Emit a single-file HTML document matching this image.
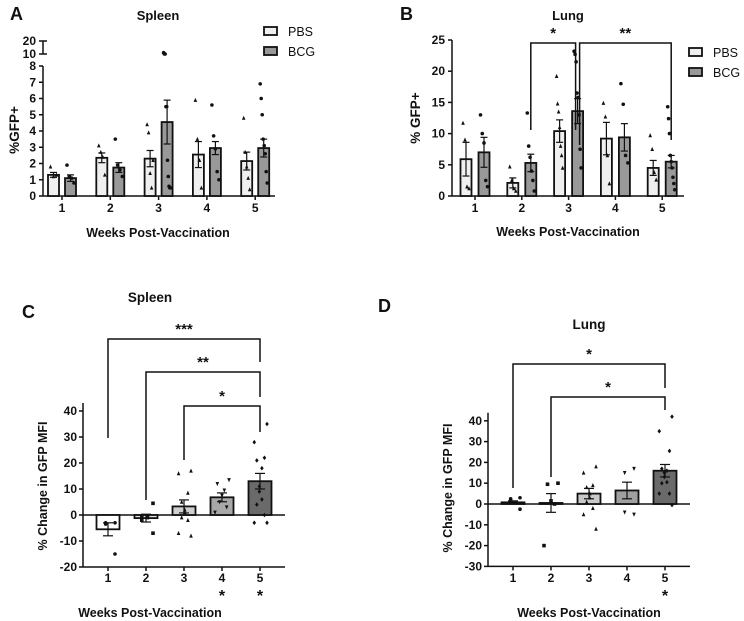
<!DOCTYPE html>
<html><head><meta charset="utf-8"><style>
html,body{margin:0;padding:0;background:#fff}
svg{display:block;font-family:"Liberation Sans",Arial,sans-serif;font-weight:bold}
</style></head><body>
<svg id="fig" width="744" height="621" viewBox="0 0 744 621" xmlns="http://www.w3.org/2000/svg"></svg>
<script>
// ---------- Panel A data (Spleen %GFP+) ----------
const aWeeks = ["1","2","3","4","5"];
const aPbsMean = [1.3, 2.35, 2.3, 2.55, 2.15];
const aPbsSem = [0.15, 0.3, 0.5, 0.8, 0.55];
const aBcgMean = [1.1, 1.75, 4.55, 2.95, 2.95];
const aBcgSem = [0.2, 0.3, 1.35, 0.4, 0.55];
const aPbsPts = [[1.8,1.2,1.3],[3.1,2.7,2.4,1.3],[4.4,3.9,1.4,0.5,2.2],[5.9,3.5,2.2,0.5],[4.8,2.7,1.8,1.1,0.4]];
const aBcgPts = [[1.9,1.2,1.1,0.8],[3.5,1.9,1.6,1.2],[11,10,10,5.5,5.5,2.2,1.2,0.6,0.5,0.5],[5.6,3.7,2.9,1.5,1.0],[6.9,6.0,5.0,3.5,3.1,2.6,1.5,0.8]];
const aTicksLow = [0,1,2,3,4,5,6,7,8];
const aTicksHigh = [10,20];
// ---------- Panel B data (Lung %GFP+) ----------
const bWeeks = ["1","2","3","4","5"];
const bPbsMean = [5.9, 2.1, 10.4, 9.2, 4.5];
const bPbsSem = [2.7, 0.8, 1.8, 2.6, 1.2];
const bBcgMean = [7.0, 5.3, 13.6, 9.4, 5.5];
const bBcgSem = [2.4, 1.4, 2.0, 2.2, 1.0];
const bPbsPts = [[11.7,9,1.5,1.2],[4.7,2.5,1.2,0.8],[19.2,14.8,13.5,11,8,6.5,4.5],[14.9,12.7,6.5,2],[9.7,7.5,3.8,2.6]];
const bBcgPts = [[13,10,8.5,2.5,1.5],[13.3,8,6.2,4,2.5,0.8],[23.2,22.7,21.5,16.5,15.8,13,7.5,4.5],[18,14.7,6.5,5.3],[14.3,12.4,10,6.5,5.5,4.5,3,2,1]];
const bTicks = [0,5,10,15,20,25];
// ---------- Panel C data (Spleen % change MFI) ----------
const cWeeks = ["1","2","3","4","5"];
const cMean = [-5.5, -1.2, 3.3, 6.8, 13];
const cSem = [2.5, 1.5, 2.5, 1.7, 3];
const cPts = [[-3,-3,-3.5,-15],[4.5,-0.5,-0.5,-1,-2,-7],[17,16,8.5,5,2,1,-1,-2,-7,-8],[13.5,12,9.5,7.5,5,3,1],[35,28,22,21,18,11,9,6,4,0,-3,-3]];
const cTicks = [-20,-10,0,10,20,30,40];
// ---------- Panel D data (Lung % change MFI) ----------
const dWeeks = ["1","2","3","4","5"];
const dMean = [0.8, 0.5, 5, 6.5, 16];
const dSem = [0.7, 4.5, 2.5, 4, 3];
const dPts = [[3,2.5,2,-2.5],[10,9.5,1.5,0,-20],[18,15,9,8,5,3,1,-2,-5,-12],[17,15,-4,-5],[42,35,25.5,17,16,15,13,10.5,10,5,5,-0.5]];
const dTicks = [-30,-20,-10,0,10,20,30,40];

const NS = "http://www.w3.org/2000/svg";
const svg = document.getElementById('fig');
function mk(tag, attrs, parent){
  const e = document.createElementNS(NS, tag);
  for (const k in attrs) e.setAttribute(k, attrs[k]);
  (parent||svg).appendChild(e);
  return e;
}
function txt(x,y,s,size,anchor,parent,rot){
  const t = mk('text',{x:x,y:y,'font-size':size,'text-anchor':anchor||'middle',fill:'#111'},parent);
  if(rot) t.setAttribute('transform','rotate(-90 '+x+' '+y+')');
  t.textContent = s;
  return t;
}
function line(x1,y1,x2,y2,w,parent){ return mk('line',{x1:x1,y1:y1,x2:x2,y2:y2,stroke:'#111','stroke-width':w||1.5},parent); }
function marker(shape,x,y,parent){
  let m;
  const s=1.8;
  if(shape==='circle') m=mk('circle',{cx:x,cy:y,r:s,fill:'#111'},parent);
  else if(shape==='square') m=mk('rect',{x:x-s,y:y-s,width:2*s,height:2*s,fill:'#111'},parent);
  else if(shape==='tri') m=mk('polygon',{points:`${x},${y-s-0.5} ${x-s},${y+s} ${x+s},${y+s}`,fill:'#111'},parent);
  else if(shape==='dtri') m=mk('polygon',{points:`${x},${y+s+0.5} ${x-s},${y-s} ${x+s},${y-s}`,fill:'#111'},parent);
  else m=mk('polygon',{points:`${x},${y-s-0.5} ${x+s},${y} ${x},${y+s+0.5} ${x-s},${y}`,fill:'#111'},parent);
  
  
}
function bar(g,x,w,yv,y0,fill,name){
  const r = mk('rect',{x:x-w/2,y:Math.min(yv,y0),width:w,height:Math.abs(y0-yv),fill:fill,stroke:'#111','stroke-width':1.8},g);
  
  
}
function errbar(g,x,yTop,yBot,cap){
  line(x,yTop,x,yBot,1.2,g);
  line(x-cap,yTop,x+cap,yTop,1.2,g);
  line(x-cap,yBot,x+cap,yBot,1.2,g);
}
function spread(i,n,w){ return n<=1?0:(i/(n-1)-0.5)*w; }
function bracket(g,x1,x2,yTop,yL,yR,stars,starY){
  mk('polyline',{points:`${x1},${yL} ${x1},${yTop} ${x2},${yTop} ${x2},${yR}`,fill:'none',stroke:'#111','stroke-width':1.5},g);
  const t=txt((x1+x2)/2,starY,stars,15,'middle',g);
  
  
}

// ================= Panel A =================
(function(){
  const g = mk('g',{});
  
  
  const y0=196, yTop8=66, axX=43;
  function yA(v){ if(v<=8) return y0 - v*(y0-yTop8)/8; return 54 - (v-10)*(54-41)/10; }
  const centers = aWeeks.map((_,i)=>62+i*48.3);
  const lab=txt(10,20,'A',18,'start',g);  
  const tt=txt(158,20,'Spleen',13,'middle',g);  
  line(axX,y0,axX,yTop8,1.5,g); line(axX,54,axX,41,1.5,g);
  line(axX,y0,275,y0,1.5,g);
  aTicksLow.forEach(v=>{ line(axX-4,yA(v),axX,yA(v),1.5,g); const t=txt(axX-7,yA(v)+4,String(v),12,'end',g);  });
  aTicksHigh.forEach(v=>{ line(axX-4,yA(v),axX+4,yA(v),1.5,g); const t=txt(axX-7,yA(v)+4,String(v),12,'end',g);  });
  centers.forEach((c,i)=>{
    line(c,y0,c,y0+4,1.5,g);
    const t=txt(c,y0+16,aWeeks[i],12,'middle',g);  
    const xp=c-8.5, xb=c+8.5, w=11;
    bar(g,xp,w,yA(aPbsMean[i]),y0,'#efefef','bar-pbs-week'+(i+1));
    bar(g,xb,w,yA(aBcgMean[i]),y0,'#999','bar-bcg-week'+(i+1));
    errbar(g,xp,yA(aPbsMean[i]+aPbsSem[i]),yA(aPbsMean[i]-aPbsSem[i]),3.5);
    errbar(g,xb,yA(aBcgMean[i]+aBcgSem[i]),yA(aBcgMean[i]-aBcgSem[i]),3.5);
    aPbsPts[i].forEach((v,j)=>marker('tri',xp+spread(j,aPbsPts[i].length,6),yA(v),g));
    aBcgPts[i].forEach((v,j)=>marker('circle',xb+spread(j,aBcgPts[i].length,7),yA(v),g));
  });
  const yt=txt(19,130,'%GFP+',13.5,'middle',g,true);  
  const xt=txt(158,237,'Weeks Post-Vaccination',12.5,'middle',g);  
  const l1=mk('rect',{x:264,y:27,width:13,height:8,fill:'#efefef',stroke:'#111','stroke-width':1.8},g);  
  const l2=mk('rect',{x:264,y:47,width:13,height:8,fill:'#999',stroke:'#111','stroke-width':1.8},g);  
  const lt1=mk('text',{x:288,y:36,'font-size':12.5,'font-weight':'normal',fill:'#111'},g); lt1.textContent='PBS';  
  const lt2=mk('text',{x:288,y:56,'font-size':12.5,'font-weight':'normal',fill:'#111'},g); lt2.textContent='BCG';  
})();

// ================= Panel B =================
(function(){
  const g = mk('g',{});
  
  
  const y0=196, axX=452;
  const yB=v=> y0 - v*(196-40)/25;
  const centers = bWeeks.map((_,i)=>475+i*46.8);
  const lab=txt(400,20,'B',18,'start',g);  
  const tt=txt(568,20,'Lung',13,'middle',g);  
  line(axX,y0,axX,40,1.5,g); line(axX,y0,684,y0,1.5,g);
  bTicks.forEach(v=>{ line(axX-4,yB(v),axX,yB(v),1.5,g); const t=txt(axX-7,yB(v)+4,String(v),12,'end',g);  });
  centers.forEach((c,i)=>{
    line(c,y0,c,y0+4,1.5,g);
    const t=txt(c,y0+16,bWeeks[i],12,'middle',g);  
    const xp=c-9, xb=c+9, w=11;
    bar(g,xp,w,yB(bPbsMean[i]),y0,'#efefef','bar-pbs-week'+(i+1));
    bar(g,xb,w,yB(bBcgMean[i]),y0,'#999','bar-bcg-week'+(i+1));
    errbar(g,xp,yB(bPbsMean[i]+bPbsSem[i]),yB(bPbsMean[i]-bPbsSem[i]),3.5);
    errbar(g,xb,yB(bBcgMean[i]+bBcgSem[i]),yB(bBcgMean[i]-bBcgSem[i]),3.5);
    bPbsPts[i].forEach((v,j)=>marker('tri',xp+spread(j,bPbsPts[i].length,6),yB(v),g));
    bBcgPts[i].forEach((v,j)=>marker('circle',xb+spread(j,bBcgPts[i].length,7),yB(v),g));
  });
  bracket(g,centers[1]+9,centers[2]+7,43,130,130,'*',38);
  bracket(g,centers[2]+11,centers[4]+9,43,145,140,'**',38);
  const yt=txt(420,118,'% GFP+',13.5,'middle',g,true);  
  const xt=txt(568,236,'Weeks Post-Vaccination',12.5,'middle',g);  
  const l1=mk('rect',{x:689,y:48,width:13,height:8,fill:'#efefef',stroke:'#111','stroke-width':1.8},g);  
  const l2=mk('rect',{x:689,y:68,width:13,height:8,fill:'#999',stroke:'#111','stroke-width':1.8},g);  
  const lt1=mk('text',{x:713,y:57,'font-size':12.5,'font-weight':'normal',fill:'#111'},g); lt1.textContent='PBS';  
  const lt2=mk('text',{x:713,y:77,'font-size':12.5,'font-weight':'normal',fill:'#111'},g); lt2.textContent='BCG';  
})();

// ================= Panels C & D =================
function changePanel(o){
  const g = mk('g',{});
  
  
  const yS=v=> o.y0 - v*o.ppu;
  const centers = o.weeks.map((_,i)=>o.c0+i*o.step);
  const lab=txt(o.labX,o.labY,o.label,18,'start',g);  
  const tt=txt(o.titleX,o.titleY,o.title,13.5,'middle',g);  
  const ymin=o.ticks[0], ymax=o.ticks[o.ticks.length-1];
  line(o.axX,yS(ymin),o.axX,yS(ymax)-8,1.5,g);
  line(o.axX,yS(ymin),o.axEnd,yS(ymin),1.5,g);
  line(o.axX,o.y0,o.axEnd,o.y0,1.5,g);
  o.ticks.forEach(v=>{ line(o.axX-4,yS(v),o.axX,yS(v),1.5,g); const t=txt(o.axX-6,yS(v)+4,String(v),12,'end',g);  });
  const shapes=['circle','square','tri','dtri','diamond'];
  centers.forEach((c,i)=>{
    line(c,yS(ymin),c,yS(ymin)+4,1.5,g);
    const t=txt(c,582,o.weeks[i],12,'middle',g);  
    bar(g,c,o.bw,yS(o.mean[i]),o.y0,o.fills[i],'bar-week'+(i+1));
    errbar(g,c,yS(o.mean[i]+o.sem[i]),yS(o.mean[i]-o.sem[i]),5);
    o.pts[i].forEach((v,j)=>marker(shapes[i],c+spread(j,o.pts[i].length,14)*((j%2)?1:-1),yS(v),g));
  });
  o.stars.forEach(i=>{ const s=txt(centers[i],601,'*',16,'middle',g);   });
  o.brackets.forEach(b=>bracket(g,centers[b[0]],centers[b[1]],b[2],b[3],b[4],b[5],b[6]));
  const yt=txt(o.ytX,o.ytY,'% Change in GFP MFI',12.5,'middle',g,true);  
  const xt=txt(o.titleX,617,'Weeks Post-Vaccination',12.5,'middle',g);  
}
changePanel({name:'panel-c-spleen-mfi',label:'C',labX:22,labY:318,title:'Spleen',titleX:150,titleY:302,
  weeks:cWeeks,mean:cMean,sem:cSem,pts:cPts,ticks:cTicks,y0:515,ppu:2.6,axX:83,axEnd:285,c0:108,step:38,bw:23,
  fills:['#fff','#e4e4e4','#cfcfcf','#a8a8a8','#6a6a6a'],stars:[3,4],
  brackets:[[0,4,339,438,362,'***',334],[1,4,372,500,397,'**',367],[2,4,406,460,432,'*',401]],ytX:47,ytY:486});
changePanel({name:'panel-d-lung-mfi',label:'D',labX:378,labY:312,title:'Lung',titleX:589,titleY:329,
  weeks:dWeeks,mean:dMean,sem:dSem,pts:dPts,ticks:dTicks,y0:504,ppu:2.08,axX:488,axEnd:690,c0:513,step:38,bw:23,
  fills:['#fff','#f3f3f3','#c8c8c8','#a0a0a0','#6a6a6a'],stars:[4],
  brackets:[[0,4,364,488,388,'*',359],[1,4,397,477,410,'*',392]],ytX:452,ytY:488});
</script>
</body></html>
